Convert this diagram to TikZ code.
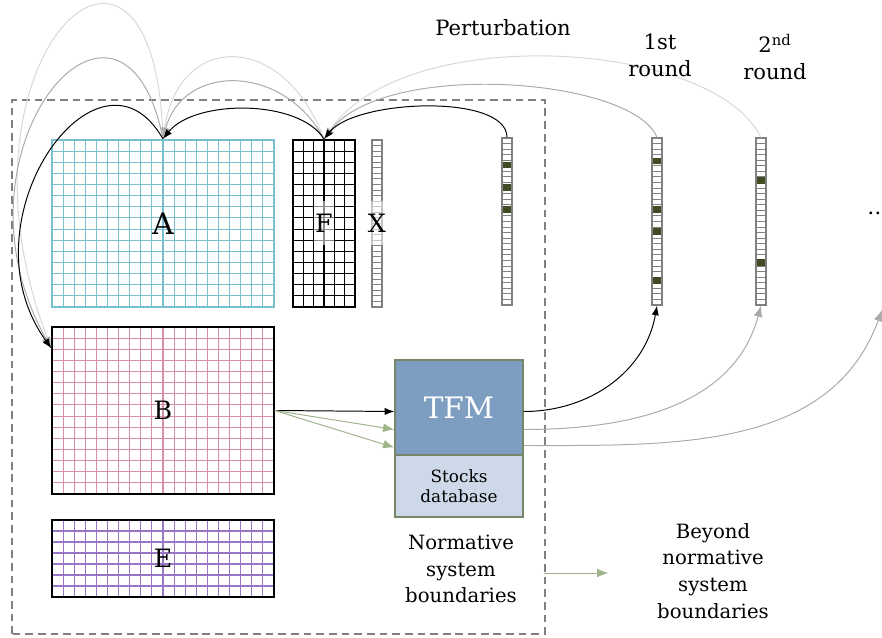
\documentclass[tikz,border=0pt]{standalone}
\usepackage{fontspec}
\setmainfont{DejaVu Serif}
\usepackage{tikz}
\usetikzlibrary{positioning,calc,arrows.meta}

\definecolor{acyan}{RGB}{120,192,208}
\definecolor{bpink}{RGB}{214,142,170}
\definecolor{epurple}{RGB}{152,120,198}
\definecolor{vecgray}{RGB}{128,128,128}
\definecolor{hitgreen}{RGB}{66,76,36}
\definecolor{tfmblue}{RGB}{125,157,193}
\definecolor{dbblue}{RGB}{205,217,232}
\definecolor{boxedge}{RGB}{118,134,104}
\definecolor{sage}{RGB}{160,180,140}
\definecolor{arcgray}{RGB}{170,170,170}
\definecolor{arclight}{RGB}{215,215,215}

\tikzset{
    cellgrid/.style n args={3}{path picture={
        \coordinate (sw) at (path picture bounding box.south west);
        \coordinate (ne) at (path picture bounding box.north east);
        \foreach \k in {1,...,#2}
            \draw[#1, line width=0.75pt] ($(sw)!\k/#2!(sw-|ne)$) -- ($(sw|-ne)!\k/#2!(ne)$);
        \foreach \k in {1,...,#3}
            \draw[#1, line width=0.75pt] ($(sw)!\k/#3!(sw|-ne)$) -- ($(sw-|ne)!\k/#3!(ne)$);
    }},
    amat/.style={draw=acyan, line width=1.5pt, minimum width=5.55cm, minimum height=4.175cm, inner sep=0pt, cellgrid={acyan}{20}{15}, font=\fontsize{21}{21}\selectfont},
    bmat/.style={draw=black, line width=1pt, minimum width=5.55cm, minimum height=4.175cm, inner sep=0pt, cellgrid={bpink}{20}{15}, font=\fontsize{18}{18}\selectfont},
    emat/.style={draw=black, line width=1pt, minimum width=5.55cm, minimum height=1.925cm, inner sep=0pt, cellgrid={epurple}{20}{7}, font=\fontsize{18}{18}\selectfont},
    fmat/.style={draw=black, line width=1.2pt, minimum width=1.55cm, minimum height=4.175cm, inner sep=0pt, cellgrid={black}{6}{15}},
    vec/.style={draw=vecgray, line width=0.9pt, minimum width=0.25cm, minimum height=4.175cm, inner sep=0pt, cellgrid={vecgray}{1}{30}},
    patch/.style={fill=white, fill opacity=0.55, text opacity=1, inner sep=1pt, minimum height=1.1cm, font=\fontsize{18}{18}\selectfont},
    tfm/.style={draw=boxedge, line width=1pt, fill=tfmblue, text=white, minimum width=3.2cm, minimum height=2.375cm, font=\fontsize{21}{24}\selectfont},
    stocks/.style={draw=boxedge, line width=1pt, fill=dbblue, minimum width=3.2cm, minimum height=1.55cm, align=center, font=\fontsize{12}{14}\selectfont},
    caption/.style={align=center, font=\fontsize{14}{19}\selectfont},
    head/.style={align=center, font=\fontsize{15}{19}\selectfont},
    boundary/.style={draw=vecgray, line width=1pt, dash pattern=on 5.5pt off 3.5pt},
    dark/.style={-{Latex[length=2.4mm,width=1.8mm]}, black, line width=0.7pt},
    mid/.style={-{Latex[length=2.8mm,width=2.2mm]}, arcgray, line width=0.7pt},
    faint/.style={-{Latex[length=2.8mm,width=2.2mm]}, arclight, line width=0.7pt},
    sagearr/.style={-{Latex[length=2.8mm,width=2.2mm]}, sage, line width=0.7pt}
}

\begin{document}
\begin{tikzpicture}
    \useasboundingbox (0,0) rectangle (22.05,15.925);

    % normative system boundaries
    \draw[boundary] (0.3,0.075) rectangle (13.625,13.425);

    % matrices
    \node[amat] (Amat) at (4.075,10.3375) {A};
    \node[fmat, label={[patch]center:F}] (Fmat) at (8.1,10.3375) {};
    \node[vec, label={[patch]center:X}] (Xvec) at (9.425,10.3375) {};
    \node[bmat] (Bmat) at (4.075,5.6625) {B};
    \node[emat] (Emat) at (4.075,1.9625) {E};

    % perturbation and rounds
    \node[vec] (Pvec) at (12.675,10.3875) {};
    \node[vec] (R1vec) at (16.425,10.3875) {};
    \node[vec] (R2vec) at (19.025,10.3875) {};
    \foreach \v/\o in {Pvec/0.69, Pvec/1.25, Pvec/1.8, R1vec/0.59, R1vec/1.8, R1vec/2.35, R1vec/3.575, R2vec/1.075, R2vec/3.125}
        \fill[hitgreen] ($(\v.north)+(-0.09,-\o-0.08)$) rectangle +(0.18,0.16);

    % TFM
    \node[tfm] (TFM) at (11.475,5.7375) {TFM};
    \node[stocks, below=-1pt of TFM] (db) {Stocks\\database};

    \coordinate (Bin) at ($(Bmat.north west)+(0,-0.55)$);
    \coordinate (Rnext) at (22.05,8.175);

    % feedback arcs
    \draw[faint] (R2vec.north) .. controls +(-1.2,2.45) and +(2.0,2.95) .. (Fmat.north);
    \draw[faint] (Fmat.north) .. controls +(-1.0,2.7) and +(0.4,2.7) .. (Amat.north);
    \draw[faint] (Amat.north) .. controls +(-0.2,7.0) and +(-2.8,7.3) .. (Bin);
    \draw[mid] (R1vec.north) .. controls +(-0.6,1.5) and +(1.5,2.0) .. (Fmat.north);
    \draw[mid] (Fmat.north) .. controls +(-1.0,1.9) and +(0.5,1.9) .. (Amat.north);
    \draw[mid] (Amat.north) .. controls +(-1.0,5.0) and +(-2.8,5.0) .. (Bin);
    \draw[dark] (Pvec.north) .. controls +(0,1.1) and +(0.8,1.0) .. (Fmat.north);
    \draw[dark] (Fmat.north) .. controls +(-0.6,1.0) and +(0.8,1.0) .. (Amat.north);
    \draw[dark] (Amat.north) .. controls +(-1.6,2.8) and +(-2.3,3.2) .. (Bin);

    % B to TFM
    \draw[dark] (Bmat.east) -- ([yshift=-0.1cm]TFM.west);
    \draw[sagearr] (Bmat.east) -- ([yshift=-0.55cm]TFM.west);
    \draw[sagearr] (Bmat.east) -- ([yshift=-1.0cm]TFM.west);

    % TFM to next rounds
    \draw[dark] ([yshift=-0.1cm]TFM.east) to[out=0, in=-100] (R1vec.south);
    \draw[mid] ([yshift=-0.55cm]TFM.east) to[out=0, in=-105] (R2vec.south);
    \draw[mid] ([yshift=-0.95cm]TFM.east) to[out=0, in=-110] (Rnext);

    % labels
    \node[head] (pert) at (12.575,15.225) {Perturbation};
    \node[head] (first) at (16.5,14.55) {1st\\round};
    \node[head] (second) at (19.375,14.5) {2\textsuperscript{nd}\\round};
    \node[head] (dots) at (21.95,10.6) {\dots};

    \node[caption] (norm) at (11.525,1.7) {Normative\\system\\boundaries};
    \node[caption] (beyond) at (17.825,1.65) {Beyond\\normative\\system\\boundaries};

    \draw[sagearr] ([xshift=0.55cm, yshift=-0.1cm]norm.east) -- ([xshift=-1.1cm, yshift=-0.05cm]beyond.west);
\end{tikzpicture}
\end{document}
